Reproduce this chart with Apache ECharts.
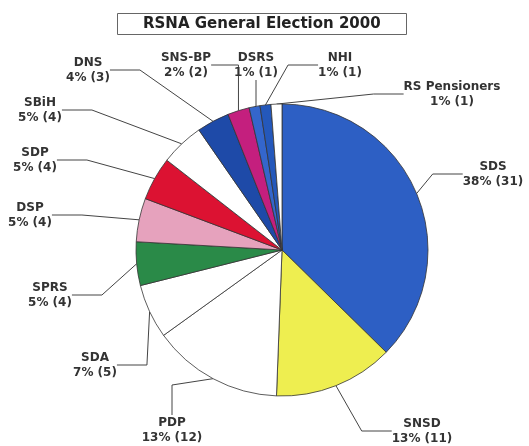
<!DOCTYPE html>
<html>
<head>
<meta charset="utf-8">
<script src="https://cdn.jsdelivr.net/npm/echarts@6/dist/echarts.min.js"></script>
<style>
  html, body { margin: 0; padding: 0; background: #fff; }
  #chart { width: 529px; height: 446px; }
</style>
</head>
<body>
<div id="chart"></div>
<script>
// Données (sièges), dans l'ordre horaire depuis le haut
const parties = ['SDS', 'SNSD', 'PDP', 'SDA', 'SPRS', 'DSP', 'SDP', 'SBiH', 'DNS', 'SNS-BP', 'DSRS', 'NHI', 'RS Pensioners'];
const seats = [31, 11, 12, 5, 4, 4, 4, 4, 3, 2, 1, 1, 1];
const percents = [38, 13, 13, 7, 5, 5, 5, 5, 4, 2, 1, 1, 1];

// Couleurs des parts
const colors = ['#2d5fc4', '#eeee50', '#ffffff', '#ffffff', '#2a8a48', '#e6a2bd', '#dc1232',
  '#ffffff', '#1e4aa8', '#c41f7e', '#3466cc', '#2458bb', '#ffffff'];

// Position des étiquettes (centre du texte)
const labelPos = [[493, 174], [422, 431], [172, 430], [95, 365], [50, 295], [30, 215], [35, 160],
  [40, 110], [88, 70], [186, 65], [256, 65], [340, 65], [452, 94]];

const chart = echarts.init(document.getElementById('chart'));

const option = {
  animation: false,
  backgroundColor: '#fff',
  title: {
    text: 'RSNA General Election 2000',
    left: 117,
    top: 13,
    padding: [4, 26, 3, 26],
    borderColor: '#666',
    borderWidth: 1,
    textStyle: {
      fontFamily: 'DejaVu Sans',
      fontSize: 15,
      fontWeight: 'bold',
      color: '#222'
    }
  },
  series: [
    {
      type: 'pie',
      center: [282, 250],
      radius: 146,
      startAngle: 90,
      clockwise: true,
      data: parties.map((name, i) => ({
        name: name,
        value: seats[i],
        pct: percents[i],
        itemStyle: { color: colors[i] }
      })),
      itemStyle: {
        borderColor: '#333',
        borderWidth: 0.8
      },
      label: {
        show: true,
        color: '#333',
        fontFamily: 'DejaVu Sans',
        fontSize: 12,
        fontWeight: 'bold',
        lineHeight: 15,
        align: 'center',
        overflow: 'none',
        edgeDistance: 0,
        formatter: function (p) {
          return p.name + '\n' + p.data.pct + '% (' + p.value + ')';
        }
      },
      labelLine: {
        show: true,
        lineStyle: { color: '#444', width: 1 }
      },
      labelLayout: function (params) {
        const pos = labelPos[params.dataIndex];
        return {
          x: pos[0],
          y: pos[1],
          align: 'center',
          verticalAlign: 'middle'
        };
      }
    }
  ]
};

chart.setOption(option);
</script>
</body>
</html>
